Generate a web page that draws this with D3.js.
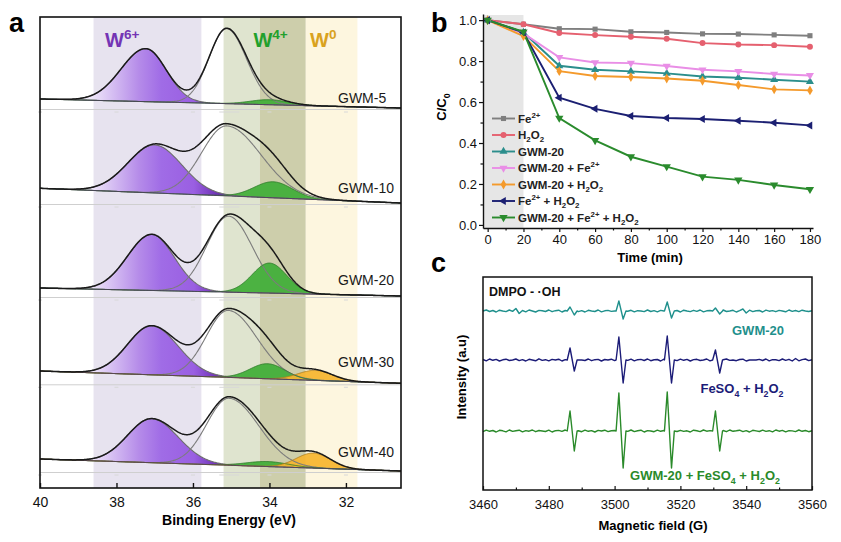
<!DOCTYPE html>
<html><head><meta charset="utf-8">
<script src="https://cdn.jsdelivr.net/npm/d3@7"></script>
<style>
body{margin:0;background:#fff}
svg{display:block}
text{font-family:Arial,"Liberation Sans",Helvetica,sans-serif}
</style>
</head><body>
<svg id="c" width="841" height="542"></svg>
<script>
// ================= DATA =================
// Panel a: W 4f XPS fits (centre eV, height, sigma on high-BE side, sigma on low-BE side)
const xpsSamples = ["GWM-5","GWM-10","GWM-20","GWM-30","GWM-40"];
const xpsBgLeft  = [389, 299.7, 200, 117, 29];
const xpsBgRight = [380, 285, 192, 104.7, 17];
const xpsW6a = [[37.23,53,0.65,0.53],[37.0,48,0.70,0.71],[37.08,56,0.63,0.59],[37.08,49,0.63,0.69],[37.08,44,0.63,0.69]];
const xpsW6b = [[35.12,75,0.46,0.52],[35.12,70,0.65,0.90],[35.07,76,0.57,0.62],[35.08,67,0.57,0.75],[35.06,67,0.58,0.78]];
const xpsW4  = [[34.0,5,0.5,0.5],[33.9,16,0.5,0.5],[34.0,30,0.45,0.45],[34.05,15,0.46,0.46],[34.05,5,0.55,0.55]];
const xpsW0  = [null,null,null,[32.8,10,0.45,0.45],[32.85,15,0.45,0.45]];
const xpsTicks = [40,38,36,34,32];
const bandFrom = [38.6, 35.2, 34.25, 33.05];
const bandTo   = [35.78, 34.25, 33.05, 31.7];

// Panel b: degradation kinetics
const timeMin = [0,20,40,60,80,100,120,140,160,180];
const seriesNames = ["Fe^{2+}","H_{2}O_{2}","GWM-20","GWM-20 + Fe^{2+}","GWM-20 + H_{2}O_{2}","Fe^{2+} + H_{2}O_{2}","GWM-20 + Fe^{2+} + H_{2}O_{2}"];
const cFe    = [1.0,0.980,0.958,0.956,0.943,0.940,0.933,0.932,0.928,0.924];
const cH2O2  = [1.0,0.980,0.937,0.927,0.919,0.909,0.888,0.881,0.878,0.870];
const cGWM   = [1.0,0.940,0.777,0.758,0.750,0.740,0.725,0.719,0.709,0.700];
const cGWMFe = [1.0,0.935,0.818,0.793,0.790,0.776,0.758,0.750,0.737,0.730];
const cGWMH  = [1.0,0.922,0.751,0.727,0.722,0.715,0.704,0.683,0.662,0.657];
const cFeH   = [1.0,0.940,0.621,0.567,0.532,0.522,0.517,0.509,0.499,0.486];
const cAll   = [1.0,0.943,0.522,0.413,0.333,0.285,0.236,0.220,0.195,0.174];
const bXTicks = [0,20,40,60,80,100,120,140,160,180];
const bYTicks = [0,0.2,0.4,0.6,0.8,1.0];

// Panel c: EPR DMPO-OH spectra
const eprCenters = [3487.1, 3501.95, 3516.65, 3531.3];
const eprNames = ["GWM-20","FeSO_{4} + H_{2}O_{2}","GWM-20 + FeSO_{4} + H_{2}O_{2}"];
const eprOffset = [179, 130, 59];
const tealUp = [4,10,9,3],   tealDown = [4,8,7,3];
const navyUp = [12,23,24,10], navyDown = [11,23,23,13];
const greenUp = [20,38,39,20], greenDown = [20,37,37,20];
const tealNoise = [0,1,-0.5,0.5,-1,0.8,0,-0.6,1,-0.4,
 2.5,-2.5,0.5,-0.8,1,0,-1,0.6,0.2,-0.5,
 1,-0.7,0.3,0.8,-1,0.5,-0.3,0,0.9,-0.6,
 0.4,-1,0.7,0,-0.5,1,-0.8,0.2,0.6,-0.4,
 0,0.8,-1,0.5,-0.2,0.7,-0.9,0.3,0,-0.6,
 1,-0.5,0.4,-0.8,0.6,0,-0.7,1,-0.3,0.5,
 -1,0.8,0,-0.6,0.7,-0.4,1,-0.9,0.2,0.5,
 -0.8,0.6,-0.2,1,-0.5,0,0.7,-1,0.4,2,
 -2,0.8,-0.6,0.3,0.5,-1,0.9,-0.2,0.4,-0.7,
 0.6,0,-0.8,1,-0.4,0.5,-0.6,0.8,0,-0.5,0.3];
const navyNoise = [0.5,-0.8,1,-0.3,0.6,-1,0.2,0.8,-0.5,0,
 1,-0.6,0.4,-1,0.7,0,-0.8,1.2,-0.4,0.3,
 -0.9,0.6,0,0.8,-1,0.4,-0.2,0.9,0,0,
 0,-0.5,1,-0.7,0.3,0.6,-1,0.5,0,0.8,
 -0.6,0.2,0,0,-0.4,0.9,-0.8,0.3,0.6,-0.5,
 1,-0.7,0.2,0.5,-1,0.8,0,0,0,-0.6,
 0.9,-0.3,0.6,-1,0.4,0.7,-0.5,0,1,-0.8,
 0.3,0.6,-0.9,0.2,1,-0.4,0,-0.7,0.5,0.8,
 -1,0,0,0,0.6,-0.5,1,-0.9,0.4,0.2,
 -0.6,1,-0.3,0.7,-1,1.5,-0.8,0.4,1,-0.6,0.3];
const greenNoise = [-0.6,0.9,-0.3,0.5,-1,0.7,0.2,-0.8,1,-0.4,
 0.3,0.8,-0.9,0.4,-0.2,1,-0.7,0.5,0,-0.5,
 0.8,-1,0.3,0.6,-0.4,1,-0.8,0,0.5,0.2,
 -0.7,0.9,-0.3,0.4,-1,0.6,0,0.8,-0.6,0.3,
 0.5,-0.9,0.7,0,-0.4,1,-0.6,0.2,0.8,-1,
 0.4,0,-0.7,0.9,-0.3,0.5,-0.8,1,0,-0.5,
 0.7,-0.4,0.2,-1,0.8,0.3,-0.6,1,-0.2,0.4,
 -0.9,0.6,0,0.5,-0.7,1,-0.3,0.2,0.8,-0.6,
 0.4,-1,0.7,0.1,-0.5,0.9,-0.4,0.3,-0.8,1,
 -0.2,0.6,-0.9,0.4,0.1,-0.6,1,-0.3,0.5,-0.7,0.2];
const cXTicks = [3460,3480,3500,3520,3540,3560];

// ================= HELPERS =================
const svg = d3.select("#c");
function rich(t, str, fs) {
  const parts = str.split(/(\^\{[^}]*\}|_\{[^}]*\})/).filter(s => s.length);
  let shift = 0;
  parts.forEach(p => {
    let target = 0, txt = p, small = false;
    if (p[0] === '^') { target = -fs*0.4; txt = p.slice(2,-1); small = true; }
    else if (p[0] === '_') { target = fs*0.3; txt = p.slice(2,-1); small = true; }
    const ts = t.append("tspan").attr("dy", target - shift).text(txt);
    if (small) ts.attr("font-size", fs*0.68);
    shift = target;
  });
  return t;
}
const defs = svg.append("defs");

// ================= PANEL A =================
const xA = d3.scaleLinear().domain([40, 30.56]).range([40, 401]);
const yA = d3.scaleLinear().domain([0, 471]).range([488, 17]);
const gA = svg.append("g");
const bandColors = ["#e7e3ef", "#dfe4cf", "#cdceab", "#fdf6df"];
bandFrom.forEach((f, i) => {
  gA.append("rect").attr("x", xA(f)).attr("y", yA(471)).attr("width", xA(bandTo[i]) - xA(f))
    .attr("height", yA(0) - yA(471)).attr("fill", bandColors[i]);
});

const gp = defs.append("linearGradient").attr("id","gPurple").attr("gradientUnits","userSpaceOnUse")
  .attr("x1", xA(38.7)).attr("x2", xA(35.3)).attr("y1",0).attr("y2",0);
[[0,"#f1eafa"],[0.38,"#b58be9"],[0.55,"#a06ce6"],[0.8,"#9a5fe2"],[1,"#6a2db0"]].forEach(s =>
  gp.append("stop").attr("offset", s[0]).attr("stop-color", s[1]));

const grid = d3.range(40, 30.55, -0.02);
function comp(E, p) {
  if (!p) return 0;
  const s = E > p[0] ? p[2] : p[3];
  return p[1] * Math.exp(-((E - p[0]) ** 2) / (2 * s * s));
}

xpsSamples.forEach((name, i) => {
  const bg = E => xpsBgRight[i] + (xpsBgLeft[i] - xpsBgRight[i]) * (E - 30.56) / (40 - 30.56);
  const sep = xpsBgRight[i];
  gA.append("line").attr("x1", xA(40)).attr("x2", xA(30.56)).attr("y1", yA(sep) + 1.5).attr("y2", yA(sep) + 1.5)
    .attr("stroke", "#cfcfcf").attr("stroke-width", 1);
  xpsTicks.concat([35.05]).forEach(t => {
    gA.append("line").attr("x1", xA(t) - (t === 35.05 ? 10 : 2)).attr("x2", xA(t) + (t === 35.05 ? 10 : 2))
      .attr("y1", yA(sep) + 4).attr("y2", yA(sep) + 4).attr("stroke", "#d8d8d8").attr("stroke-width", 1);
  });
  const comps = [xpsW6a[i], xpsW6b[i], xpsW4[i], xpsW0[i]];
  const area = p => d3.area().x(E => xA(E)).y0(E => yA(bg(E))).y1(E => yA(bg(E) + comp(E, p)));
  const line = p => d3.line().x(E => xA(E)).y(E => yA(bg(E) + comp(E, p)));
  gA.append("path").datum(grid).attr("d", area(xpsW6a[i])).attr("fill", "url(#gPurple)");
  gA.append("path").datum(grid).attr("d", area(xpsW4[i])).attr("fill", "#3fae36").attr("fill-opacity", 0.92);
  if (xpsW0[i]) gA.append("path").datum(grid).attr("d", area(xpsW0[i])).attr("fill", "#f6b42e").attr("fill-opacity", 0.92);
  gA.append("path").datum(grid).attr("d", line(xpsW6a[i])).attr("fill", "none").attr("stroke", "#6e6e6e").attr("stroke-width", 1.1);
  gA.append("path").datum(grid).attr("d", line(xpsW6b[i])).attr("fill", "none").attr("stroke", "#7c7c7c").attr("stroke-width", 1.1);
  gA.append("path").datum(grid).attr("d", line(xpsW4[i])).attr("fill", "none").attr("stroke", "#2f7d2a").attr("stroke-width", 0.9);
  if (xpsW0[i]) gA.append("path").datum(grid).attr("d", line(xpsW0[i])).attr("fill", "none").attr("stroke", "#b08020").attr("stroke-width", 0.9);
  gA.append("path").datum(grid).attr("d", d3.line().x(E => xA(E)).y(E => yA(bg(E))))
    .attr("fill", "none").attr("stroke", "#4a3a5a").attr("stroke-width", 1);
  gA.append("path").datum(grid)
    .attr("d", d3.line().x(E => xA(E)).y(E => yA(bg(E) + comps.reduce((s, p) => s + comp(E, p), 0))))
    .attr("fill", "none").attr("stroke", "#1a1a1a").attr("stroke-width", 1.5);
  const lblOff = [5, 10, 11, 16, 14][i];
  gA.append("text").attr("x", 338).attr("y", yA(sep) - lblOff).attr("font-size", 14).attr("fill", "#1a1a1a").text(name);
});

[["W^{6+}", 38.3, "#7434b4"], ["W^{4+}", 34.42, "#22a02c"], ["W^{0}", 32.94, "#d9a21e"]].forEach(d => {
  rich(gA.append("text").attr("x", xA(d[1])).attr("y", 46.5).attr("font-size", 20).attr("font-weight", "bold").attr("fill", d[2]), d[0], 20);
});

gA.append("rect").attr("x", 40).attr("y", 17).attr("width", 361).attr("height", 471)
  .attr("fill", "none").attr("stroke", "#111").attr("stroke-width", 1.6);
const axA = gA.append("g").attr("transform", "translate(0,488)")
  .call(d3.axisBottom(xA).tickValues(xpsTicks).tickSize(-5).tickSizeOuter(0).tickPadding(9));
axA.select(".domain").remove();
axA.selectAll("line").attr("stroke", "#111").attr("stroke-width", 1.4);
axA.selectAll("text").attr("font-size", 14).attr("fill", "#111").attr("font-family", null);
gA.append("text").attr("x", 229).attr("y", 525).attr("text-anchor", "middle").attr("font-size", 14)
  .attr("font-weight", "bold").text("Binding Energy (eV)");
svg.append("text").attr("x", 9).attr("y", 31.5).attr("font-size", 27).attr("font-weight", "bold").text("a");

// ================= PANEL B =================
const xB = d3.scaleLinear().domain([-2.6, 181.7]).range([483, 813]);
const yB = d3.scaleLinear().domain([-0.015, 1.03]).range([228, 14]);
const gB = svg.append("g");
gB.append("rect").attr("x", xB(-2.6)).attr("y", yB(1.025)).attr("width", xB(20) - xB(-2.6))
  .attr("height", yB(-0.015) - yB(1.025)).attr("fill", "#e6e6e6");

const series = [cFe, cH2O2, cGWM, cGWMFe, cGWMH, cFeH, cAll];
const sColors = ["#7f7f7f", "#e5606f", "#2b8e8c", "#e98ee6", "#f49a2c", "#1b1f72", "#2a8b2d"];
const sSym = [[d3.symbolSquare, 0, 26], [d3.symbolCircle, 0, 28], [d3.symbolTriangle, 0, 28], [d3.symbolTriangle, 180, 28],
  [d3.symbolDiamond, 0, 28], [d3.symbolTriangle, -90, 28], [d3.symbolTriangle, 180, 30]];
const lineB = d3.line().x((d, j) => xB(timeMin[j])).y(d => yB(d));
series.forEach((s, k) => {
  gB.append("path").datum(s).attr("d", lineB).attr("fill", "none").attr("stroke", sColors[k]).attr("stroke-width", 1.9);
});
series.forEach((s, k) => {
  gB.selectAll(null).data(s).enter().append("path")
    .attr("d", d3.symbol().type(sSym[k][0]).size(sSym[k][2]))
    .attr("transform", (d, j) => `translate(${xB(timeMin[j])},${yB(d)}) rotate(${sSym[k][1]})`)
    .attr("fill", sColors[k]);
});
gB.append("g").attr("transform", "translate(0,228)")
  .call(d3.axisBottom(xB).tickValues(bXTicks).tickSize(4).tickSizeOuter(0).tickPadding(3));
gB.append("g").attr("transform", "translate(0,228)")
  .call(d3.axisBottom(xB).tickValues(d3.range(10, 180, 20)).tickSize(2.5).tickFormat("")).select(".domain").remove();
gB.append("g").attr("transform", "translate(483,0)")
  .call(d3.axisLeft(yB).tickValues(bYTicks).tickFormat(d3.format(".1f")).tickSize(4).tickSizeOuter(0).tickPadding(2));
gB.append("g").attr("transform", "translate(483,0)")
  .call(d3.axisLeft(yB).tickValues([0.1, 0.3, 0.5, 0.7, 0.9]).tickSize(2.5).tickFormat("")).select(".domain").remove();
gB.selectAll(".domain").attr("stroke", "#111").attr("stroke-width", 1.4);
gB.selectAll(".tick line").attr("stroke", "#111").attr("stroke-width", 1.2);
gB.selectAll(".tick text").attr("font-size", 13).attr("fill", "#111").attr("font-family", null);
gB.append("text").attr("x", 650).attr("y", 262).attr("text-anchor", "middle").attr("font-size", 13)
  .attr("font-weight", "bold").text("Time (min)");
rich(gB.append("text").attr("transform", "translate(446,107) rotate(-90)").attr("text-anchor", "middle")
  .attr("font-size", 13).attr("font-weight", "bold"), "C/C_{0}", 13);
seriesNames.forEach((nm, k) => {
  const y = 118.5 + k * 16.5;
  gB.append("line").attr("x1", 492).attr("x2", 515).attr("y1", y).attr("y2", y).attr("stroke", sColors[k]).attr("stroke-width", 1.9);
  gB.append("path").attr("d", d3.symbol().type(sSym[k][0]).size(sSym[k][2]))
    .attr("transform", `translate(503.5,${y}) rotate(${sSym[k][1]})`).attr("fill", sColors[k]);
  rich(gB.append("text").attr("x", 518).attr("y", y + 4).attr("font-size", 11.5).attr("font-weight", "bold").attr("fill", "#222"), nm, 11.5);
});
svg.append("text").attr("x", 431).attr("y", 32).attr("font-size", 27).attr("font-weight", "bold").text("b");

// ================= PANEL C =================
const xC = d3.scaleLinear().domain([3460, 3560]).range([483, 812]);
const yC = d3.scaleLinear().domain([0, 213]).range([490, 277]);
const gC = svg.append("g");
const eprNoise = [tealNoise, navyNoise, greenNoise];
const eprUp = [tealUp, navyUp, greenUp];
const eprDown = [tealDown, navyDown, greenDown];
const eprColors = ["#1f908c", "#1c1c78", "#2a8a2a"];
const fieldGrid = d3.range(3460, 3561, 1);
eprNoise.forEach((nz, k) => {
  const pts = [];
  fieldGrid.forEach((f, j) => {
    if (!eprCenters.some(c => Math.abs(f - c) < 1.6)) pts.push([f, eprOffset[k] + nz[j]]);
  });
  eprCenters.forEach((c, m) => {
    pts.push([c - 1.5, eprOffset[k]]);
    pts.push([c - 0.65, eprOffset[k] + eprUp[k][m]]);
    pts.push([c + 0.65, eprOffset[k] - eprDown[k][m]]);
    pts.push([c + 1.5, eprOffset[k]]);
  });
  pts.sort((a, b) => a[0] - b[0]);
  gC.append("path").datum(pts).attr("d", d3.line().x(d => xC(d[0])).y(d => yC(d[1])))
    .attr("fill", "none").attr("stroke", eprColors[k]).attr("stroke-width", 1.4).attr("stroke-linejoin", "round");
});
const eprLabelPos = [[758, 335], [742, 393], [705, 480]];
eprNames.forEach((nm, k) => {
  rich(gC.append("text").attr("x", eprLabelPos[k][0]).attr("y", eprLabelPos[k][1]).attr("text-anchor", "middle")
    .attr("font-size", 13).attr("font-weight", "bold").attr("fill", eprColors[k]), nm, 13);
});
gC.append("text").attr("x", 489).attr("y", 296).attr("font-size", 12.5).attr("font-weight", "bold").attr("fill", "#111").text("DMPO - \u00b7OH");
gC.append("rect").attr("x", 483).attr("y", 277).attr("width", 329).attr("height", 213)
  .attr("fill", "none").attr("stroke", "#111").attr("stroke-width", 1.5);
const axC = gC.append("g").attr("transform", "translate(0,490)")
  .call(d3.axisBottom(xC).tickValues(cXTicks).tickFormat(d3.format("d")).tickSize(-4).tickSizeOuter(0).tickPadding(9.5));
gC.append("g").attr("transform", "translate(0,490)")
  .call(d3.axisBottom(xC).tickValues(d3.range(3470, 3560, 20)).tickSize(-2.5).tickFormat("")).select(".domain").remove();
axC.select(".domain").remove();
gC.selectAll(".tick line").attr("stroke", "#111").attr("stroke-width", 1.2);
gC.selectAll(".tick text").attr("font-size", 13).attr("fill", "#111").attr("font-family", null);
gC.append("text").attr("x", 653).attr("y", 530).attr("text-anchor", "middle").attr("font-size", 13)
  .attr("font-weight", "bold").text("Magnetic field (G)");
gC.append("text").attr("transform", "translate(466,377) rotate(-90)").attr("text-anchor", "middle")
  .attr("font-size", 13).attr("font-weight", "bold").text("Intensity (a.u)");
svg.append("text").attr("x", 431).attr("y", 272).attr("font-size", 27).attr("font-weight", "bold").text("c");
</script>
</body></html>
